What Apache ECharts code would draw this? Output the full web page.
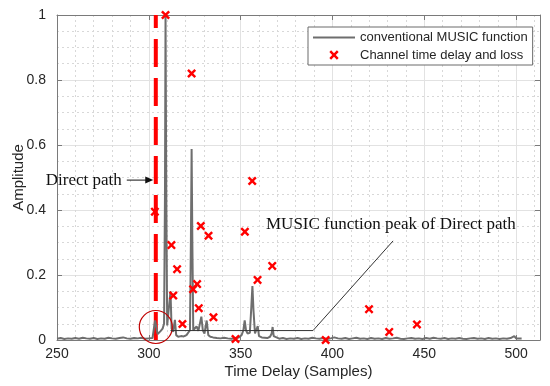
<!DOCTYPE html>
<html><head><meta charset="utf-8">
<script src="https://cdn.jsdelivr.net/npm/echarts@6/dist/echarts.min.js"></script>
<style>html,body{margin:0;padding:0;background:#fff}#c{width:550px;height:386px}</style>
</head><body><div id="c"></div>
<script>
// ---- axis ticks ----
const xTicks = [250, 300, 350, 400, 450, 500];
const xMax = 513;
const yTicks = [0, 0.2, 0.4, 0.6, 0.8, 1];

// ---- conventional MUSIC function (delay in samples, amplitude) ----
const musicDelay = [250,252,254,256,258,260,262,264,266,268,270,272,274,276,278,280,282,284,286,288,290,292,294,296,298,300,302,303,303.4,304.2,304.8,305.5,306.5,307.5,308.3,308.8,309.1,309.5,310,311,311.8,312.4,313.2,314.2,314.9,316,317.5,319,320.5,321.5,322.4,322.9,323.3,323.7,324.2,325,326,327,328.6,329.4,330.3,331.5,332.4,333.5,335,337,339,341,343,345,347,349,350.5,351.5,352.2,352.9,353.8,355,355.8,356.4,357,357.8,358.6,359.3,360,361.5,363,364.5,366,366.9,367.4,368,369,371,373,375,377,379,381,383,385,387,389,391,393,395,397,399,401,403,405,407,409,411,413,415,417,419,421,423,425,427,429,431,433,435,437,439,441,443,445,447,449,451,453,455,457,459,461,463,465,467,469,471,473,475,477,479,481,483,485,487,489,491,493,495,497,499,500,501,503];
const musicAmp = [0.004,0.006,0.003,0.005,0.004,0.006,0.004,0.007,0.005,0.004,0.006,0.003,0.005,0.004,0.007,0.005,0.004,0.006,0.008,0.005,0.004,0.006,0.005,0.007,0.004,0.005,0.006,0.008,0.06,0.058,0.018,0.02,0.028,0.035,0.05,0.45,1.0,0.45,0.045,0.05,0.15,0.035,0.025,0.062,0.015,0.01,0.012,0.011,0.015,0.02,0.03,0.3,0.588,0.3,0.03,0.025,0.042,0.028,0.072,0.03,0.02,0.06,0.015,0.01,0.008,0.006,0.005,0.007,0.005,0.004,0.006,0.008,0.015,0.03,0.06,0.03,0.02,0.022,0.1,0.166,0.09,0.02,0.015,0.043,0.012,0.008,0.007,0.006,0.01,0.02,0.04,0.012,0.006,0.004,0.006,0.003,0.005,0.004,0.006,0.003,0.005,0.004,0.007,0.005,0.004,0.006,0.003,0.005,0.008,0.005,0.004,0.006,0.003,0.005,0.007,0.004,0.005,0.003,0.006,0.004,0.005,0.003,0.006,0.004,0.005,0.007,0.004,0.003,0.005,0.006,0.004,0.005,0.003,0.006,0.004,0.007,0.005,0.004,0.006,0.003,0.005,0.004,0.006,0.004,0.003,0.005,0.006,0.004,0.005,0.003,0.006,0.004,0.005,0.003,0.005,0.004,0.006,0.012,0.005,0.004,0.005];

// ---- channel time delay and loss ----
const pathDelay = [303.3,309.1,312.3,315.4,313.3,318.3,323.3,324.1,326.3,327.2,328.3,332.5,335.2,347.2,352.3,356.3,359.2,367.2,396.3,419.9,430.9,446.0];
const pathLoss  = [0.395,1.0,0.292,0.218,0.137,0.049,0.82,0.156,0.172,0.098,0.351,0.321,0.07,0.003,0.333,0.489,0.185,0.228,0.0,0.095,0.025,0.048];

// ---- direct path marker and annotations ----
const directPathDelay = 303.8;
const circleCenter = [303.8, 0.04];
const leaderLine = [[311.8, 0.029], [389.4, 0.029], [433, 0.305]];
const peakLabelPos = [363.8, 0.354];
const directLabelPos = [285.3, 0.492];
const directArrow = [[288, 0.492], [302.4, 0.492]];

const chart = echarts.init(document.getElementById('c'), null, {renderer: 'canvas'});
const FONT = '"Liberation Sans", Arial, sans-serif';
const frameColor = '#7a7a7a';
const xSym = 'path://M0,1.9L1.9,0L5,3.1L8.1,0L10,1.9L6.9,5L10,8.1L8.1,10L5,6.9L1.9,10L0,8.1L3.1,5Z';
const xSymLegend = 'path://M-2.5,-2.5M0,1.9L1.9,0L5,3.1L8.1,0L10,1.9L6.9,5L10,8.1L8.1,10L5,6.9L1.9,10L0,8.1L3.1,5ZM12.5,12.5';
const lineIcon = 'path://M0,0L42,0L42,2L0,2Z';

const xStep = xTicks[1] - xTicks[0];
const yStep = yTicks[1] - yTicks[0];

function mkX(pos, main) {
  return {
    type: 'value', position: pos, min: xTicks[0], max: xMax, interval: xStep,
    name: main ? 'Time Delay (Samples)' : '', nameLocation: 'middle', nameGap: 24, nameMoveOverlap: false,
    nameTextStyle: {fontFamily: FONT, fontSize: 15, color: '#262626'},
    axisLine: {show: true, onZero: false, lineStyle: {color: frameColor, width: 1}},
    axisTick: {show: true, inside: true, length: 5, lineStyle: {color: frameColor}},
    axisLabel: {show: main, showMaxLabel: false, fontFamily: FONT, fontSize: 14, color: '#262626', margin: 7},
    splitLine: {show: main, lineStyle: {color: '#e2e2e2', width: 1}},
    minorTick: {show: false, splitNumber: 5},
    minorSplitLine: {show: main, lineStyle: {color: '#d8d8d8', width: 1, type: [2, 3]}}
  };
}
function mkY(pos, main) {
  return {
    type: 'value', position: pos, min: yTicks[0], max: yTicks[yTicks.length - 1], interval: yStep,
    name: main ? 'Amplitude' : '', nameLocation: 'middle', nameGap: 31, nameRotate: 90, nameMoveOverlap: false,
    nameTextStyle: {fontFamily: FONT, fontSize: 15, color: '#262626'},
    axisLine: {show: true, onZero: false, lineStyle: {color: frameColor, width: 1}},
    axisTick: {show: true, inside: true, length: 5, lineStyle: {color: frameColor}},
    axisLabel: {show: main, fontFamily: FONT, fontSize: 14, color: '#262626', margin: 11},
    splitLine: {show: main, lineStyle: {color: '#e2e2e2', width: 1}},
    minorTick: {show: false, splitNumber: 4},
    minorSplitLine: {show: main, lineStyle: {color: '#d8d8d8', width: 1, type: [2, 3]}}
  };
}

chart.setOption({
  animation: false,
  backgroundColor: '#fff',
  grid: {left: 57, right: 10, top: 15, bottom: 46, containLabel: false, outerBoundsMode: 'none'},
  xAxis: [mkX('bottom', true), mkX('top', false)],
  yAxis: [mkY('left', true), mkY('right', false)],
  legend: {
    left: 308, top: 27, orient: 'vertical',
    backgroundColor: '#fff', borderColor: '#6a6a6a', borderWidth: 1, borderRadius: 0,
    padding: [4, 5, 3, 5], itemGap: 4, itemWidth: 42, itemHeight: 14,
    textStyle: {fontFamily: FONT, fontSize: 13, color: '#262626'},
    data: [
      {name: 'conventional MUSIC function', icon: lineIcon},
      {name: 'Channel time delay and loss', icon: xSymLegend}
    ]
  },
  series: [
    {
      name: 'Direct path', type: 'line', z: 2, symbol: 'none', silent: true,
      data: [[directPathDelay, yTicks[0]], [directPathDelay, yTicks[yTicks.length - 1]]],
      lineStyle: {color: '#ff0000', width: 4, type: [28, 11]}
    },
    {
      name: 'conventional MUSIC function', type: 'line', z: 3, symbol: 'none', showSymbol: false,
      data: musicDelay.map((d, i) => [d, musicAmp[i]]),
      lineStyle: {color: '#6e6e6e', width: 2},
      itemStyle: {color: '#6e6e6e'}
    },
    {
      name: 'Channel time delay and loss', type: 'scatter', z: 5,
      symbol: xSym, symbolSize: 9,
      data: pathDelay.map((d, i) => [d, pathLoss[i]]),
      itemStyle: {color: '#ff0000', opacity: 1}
    }
  ]
});

const P = (v) => chart.convertToPixel({xAxisIndex: 0, yAxisIndex: 0}, v);
const cc = P(circleCenter);
const ll = leaderLine.map(P);
const pl = P(peakLabelPos);
const dl = P(directLabelPos);
const a0 = P(directArrow[0]), a1 = P(directArrow[1]);
const SERIF = '17px "Liberation Serif", "Times New Roman", serif';

chart.setOption({
  graphic: [
    {type: 'circle', shape: {cx: cc[0], cy: cc[1], r: 16.5}, style: {fill: 'none', stroke: '#c00000', lineWidth: 1.2}, z: 10},
    {type: 'polyline', shape: {points: ll}, style: {stroke: '#333', lineWidth: 1, fill: 'none'}, z: 10},
    {type: 'text', style: {text: 'MUSIC function peak of Direct path', x: pl[0], y: pl[1], font: SERIF, fill: '#111', textAlign: 'left', textVerticalAlign: 'middle'}, z: 10},
    {type: 'text', style: {text: 'Direct path', x: dl[0], y: dl[1], font: SERIF, fill: '#111', textAlign: 'right', textVerticalAlign: 'middle'}, z: 10},
    {type: 'line', shape: {x1: a0[0], y1: a0[1], x2: a1[0] - 6, y2: a1[1]}, style: {stroke: '#111', lineWidth: 1}, z: 10},
    {type: 'polygon', shape: {points: [[a1[0], a1[1]], [a1[0] - 8, a1[1] - 3.5], [a1[0] - 8, a1[1] + 3.5]]}, style: {fill: '#111'}, z: 10}
  ]
});
</script></body></html>
